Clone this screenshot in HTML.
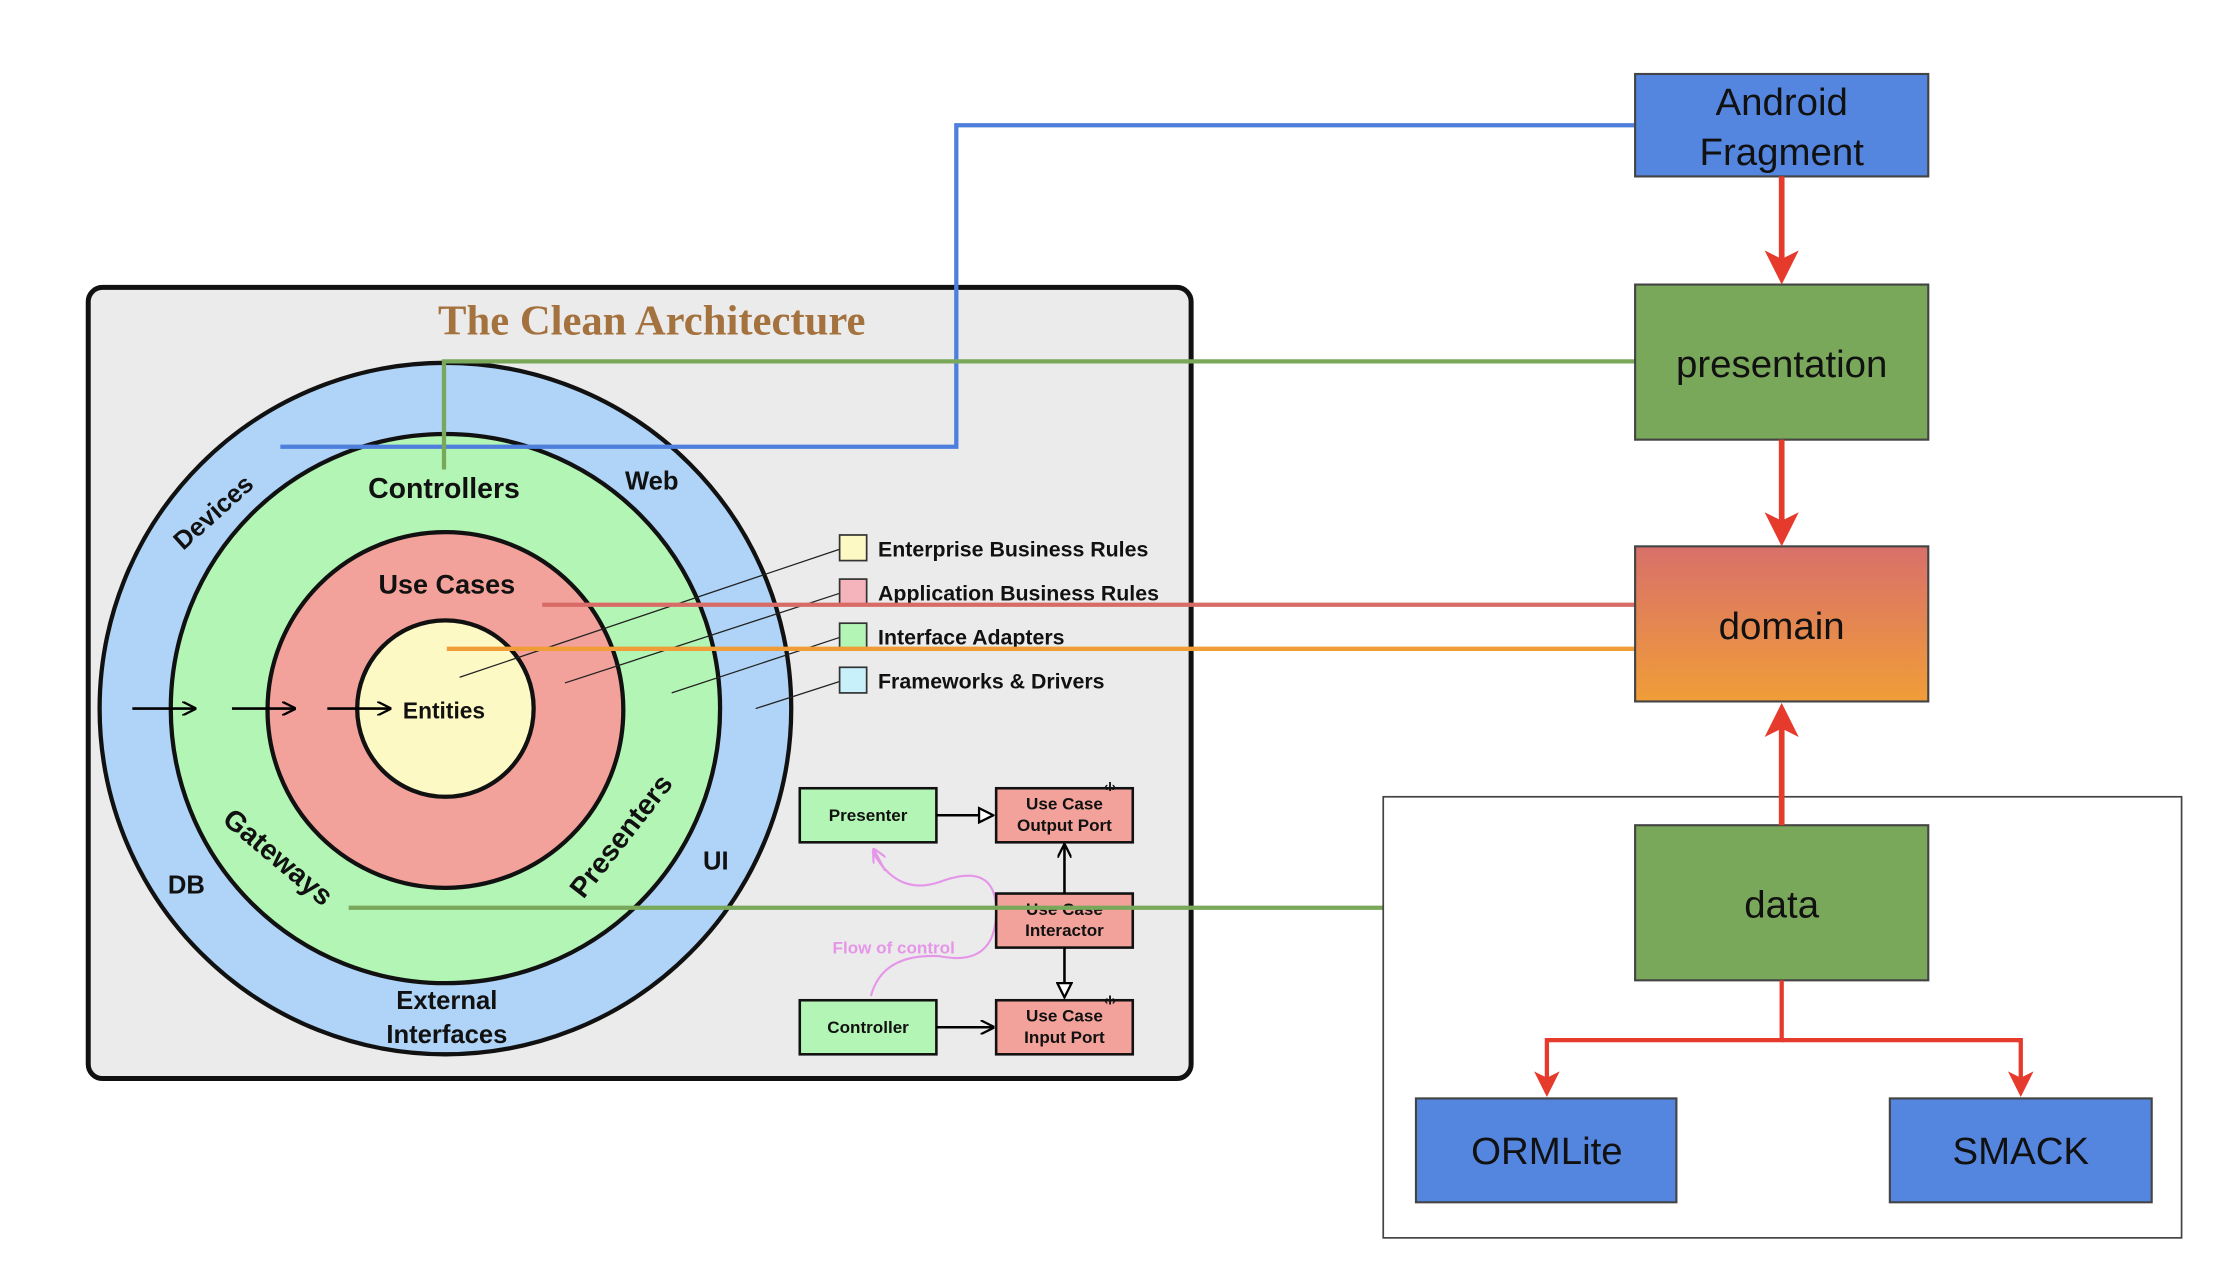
<!DOCTYPE html>
<html><head><meta charset="utf-8"><style>
html,body{margin:0;padding:0;background:#fff;}
svg{display:block;}
text{font-family:"Liberation Sans",sans-serif;}
</style></head><body>
<svg width="2220" height="1272" viewBox="0 0 1560 894" preserveAspectRatio="none" xmlns="http://www.w3.org/2000/svg">
<defs>
<linearGradient id="dg" x1="0" y1="0" x2="0" y2="1"><stop offset="0" stop-color="#d8706a"/><stop offset="1" stop-color="#f09d38"/></linearGradient>
<marker id="ra" markerWidth="6" markerHeight="6" refX="5" refY="3" orient="auto" markerUnits="strokeWidth"><path d="M0,0 L6,3 L0,6 L1.5,3 z" fill="#e53a2c"/></marker>
<marker id="ba" markerWidth="10" markerHeight="10" refX="9" refY="5" orient="auto" markerUnits="userSpaceOnUse"><path d="M0,0 L10,5 L0,10" fill="none" stroke="#000" stroke-width="1.6"/></marker>
<marker id="ta" markerWidth="12" markerHeight="12" refX="11" refY="6" orient="auto" markerUnits="userSpaceOnUse"><path d="M1,1 L11,6 L1,11 z" fill="#fff" stroke="#000" stroke-width="1.6"/></marker>
<marker id="pa" markerWidth="10" markerHeight="10" refX="9" refY="5" orient="auto" markerUnits="userSpaceOnUse"><path d="M0,0 L10,5 L0,10" fill="none" stroke="#e596e8" stroke-width="1.5"/></marker>
</defs>
<rect x="62" y="202" width="775" height="556" rx="10" fill="#ebebeb" stroke="#111" stroke-width="3.5"/>
<text x="458" y="235" text-anchor="middle" style="font-family:'Liberation Serif',serif" font-size="30" font-weight="bold" fill="#a4723e">The Clean Architecture</text>
<circle cx="313" cy="498" r="243" fill="#afd4f7" stroke="#111" stroke-width="3"/>
<circle cx="313" cy="498" r="193" fill="#b3f5b5" stroke="#111" stroke-width="3"/>
<circle cx="313" cy="499" r="125" fill="#f2a29a" stroke="#111" stroke-width="3"/>
<circle cx="313" cy="498" r="62" fill="#fdf9c4" stroke="#111" stroke-width="3"/>
<g stroke="#000" stroke-width="1.8" fill="none">
<line x1="93" y1="498" x2="137" y2="498" marker-end="url(#ba)"/>
<line x1="163" y1="498" x2="207" y2="498" marker-end="url(#ba)"/>
<line x1="230" y1="498" x2="274" y2="498" marker-end="url(#ba)"/>
</g>
<g font-weight="bold" fill="#111" text-anchor="middle">
<text x="312" y="350" font-size="20">Controllers</text>
<text x="314" y="417" font-size="19">Use Cases</text>
<text x="312" y="505" font-size="16">Entities</text>
<text x="458" y="344" font-size="18">Web</text>
<text x="503" y="611" font-size="18">UI</text>
<text x="131" y="628" font-size="18">DB</text>
<text x="314" y="709" font-size="18">External</text>
<text x="314" y="733" font-size="18">Interfaces</text>
<text x="150" y="366" font-size="18" transform="rotate(-42 150 360)">Devices</text>
<text x="195" y="609" font-size="20" transform="rotate(40 195 603)">Gateways</text>
<text x="437" y="594" font-size="20" transform="rotate(-52 437 588)">Presenters</text>
</g>
<g stroke="#222" stroke-width="0.9">
<line x1="590" y1="386" x2="323" y2="476"/>
<line x1="590" y1="417" x2="397" y2="480"/>
<line x1="590" y1="448" x2="472" y2="487"/>
<line x1="590" y1="479" x2="531" y2="498"/>
</g>
<g stroke="#333" stroke-width="1.2">
<rect x="590" y="376" width="19" height="18" fill="#fdf9c4"/>
<rect x="590" y="407" width="19" height="18" fill="#f5b4bc"/>
<rect x="590" y="438" width="19" height="18" fill="#b3f5b5"/>
<rect x="590" y="469" width="19" height="18" fill="#c8f0fa"/>
</g>
<g font-size="15" font-weight="bold" fill="#111">
<text x="617" y="391">Enterprise Business Rules</text>
<text x="617" y="422">Application Business Rules</text>
<text x="617" y="453">Interface Adapters</text>
<text x="617" y="484">Frameworks &amp; Drivers</text>
</g>
<path d="M613,598 Q630,630 660,620 Q700,605 700,640 Q700,680 660,672 Q620,670 612,700" fill="none" stroke="#e596e8" stroke-width="1.5"/>
<line x1="622" y1="612" x2="614" y2="597" stroke="#e596e8" stroke-width="1.5" marker-end="url(#pa)"/>
<text x="628" y="670" text-anchor="middle" font-size="12" font-weight="bold" fill="#e596e8">Flow of control</text>
<g stroke="#111" stroke-width="1.8">
<rect x="562" y="554" width="96" height="38" fill="#b3f5b5"/>
<rect x="700" y="554" width="96" height="38" fill="#f2a29a"/>
<rect x="700" y="628" width="96" height="38" fill="#f2a29a"/>
<rect x="562" y="703" width="96" height="38" fill="#b3f5b5"/>
<rect x="700" y="703" width="96" height="38" fill="#f2a29a"/>
</g>
<g stroke="#000" stroke-width="1.8" fill="none">
<line x1="658" y1="573" x2="698" y2="573" marker-end="url(#ta)"/>
<line x1="748" y1="628" x2="748" y2="594" marker-end="url(#ba)"/>
<line x1="748" y1="666" x2="748" y2="701" marker-end="url(#ta)"/>
<line x1="658" y1="722" x2="698" y2="722" marker-end="url(#ba)"/>
</g>
<g font-size="12" font-weight="bold" fill="#111" text-anchor="middle">
<text x="610" y="577">Presenter</text>
<text x="748" y="569">Use Case</text><text x="748" y="584">Output Port</text>
<text x="748" y="643">Use Case</text><text x="748" y="658">Interactor</text>
<text x="610" y="726">Controller</text>
<text x="748" y="718">Use Case</text><text x="748" y="733">Input Port</text>
<text x="780" y="556" font-size="9">‹I›</text>
<text x="780" y="706" font-size="9">‹I›</text>
</g>
<polyline points="1149,88 672,88 672,314 197,314" fill="none" stroke="#4f7fdc" stroke-width="3"/>
<polyline points="1149,254 312,254 312,330" fill="none" stroke="#79a85a" stroke-width="3"/>
<line x1="381" y1="425" x2="1149" y2="425" stroke="#d96b66" stroke-width="3"/>
<line x1="314" y1="456" x2="1149" y2="456" stroke="#f09d38" stroke-width="3"/>
<line x1="245" y1="638" x2="972" y2="638" stroke="#79a85a" stroke-width="3"/>
<rect x="972" y="560" width="561" height="310" fill="none" stroke="#444" stroke-width="1.2"/>
<g stroke="#444" stroke-width="1.5">
<rect x="1149" y="52" width="206" height="72" fill="#5486e0"/>
<rect x="1149" y="200" width="206" height="109" fill="#79a85a"/>
<rect x="1149" y="384" width="206" height="109" fill="url(#dg)"/>
<rect x="1149" y="580" width="206" height="109" fill="#79a85a"/>
<rect x="995" y="772" width="183" height="73" fill="#5486e0"/>
<rect x="1328" y="772" width="184" height="73" fill="#5486e0"/>
</g>
<g stroke="#e53a2c" stroke-width="4" fill="none">
<line x1="1252" y1="124" x2="1252" y2="196" marker-end="url(#ra)"/>
<line x1="1252" y1="309" x2="1252" y2="380" marker-end="url(#ra)"/>
<line x1="1252" y1="580" x2="1252" y2="498" marker-end="url(#ra)"/>
<polyline points="1252,689 1252,731 1087,731 1087,768" marker-end="url(#ra)" stroke-width="3"/>
<polyline points="1252,731 1420,731 1420,768" marker-end="url(#ra)" stroke-width="3"/>
</g>
<g font-size="27" fill="#111" text-anchor="middle">
<text x="1252" y="81">Android</text>
<text x="1252" y="116">Fragment</text>
<text x="1252" y="265">presentation</text>
<text x="1252" y="449">domain</text>
<text x="1252" y="645">data</text>
<text x="1087" y="818">ORMLite</text>
<text x="1420" y="818">SMACK</text>
</g>
</svg>
</body></html>
